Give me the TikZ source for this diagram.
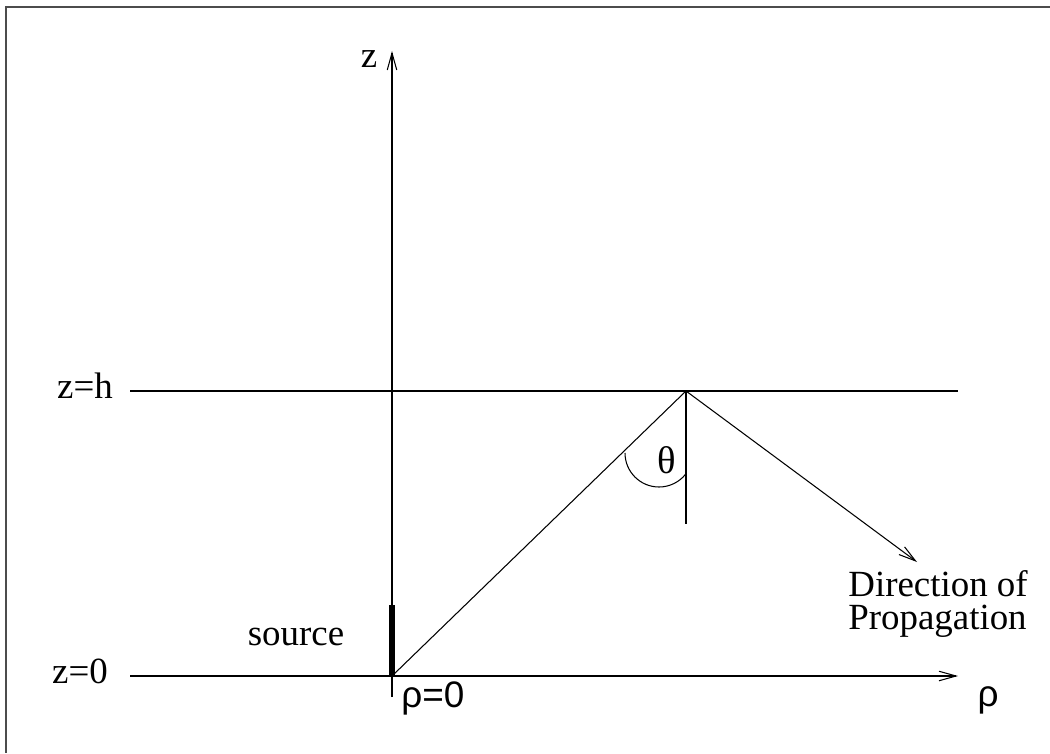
\documentclass[tikz,border=0pt]{standalone}
\usepackage{fontspec}
\setmainfont{Liberation Serif}
\newfontfamily\greeksans{Liberation Sans}
\usetikzlibrary{arrows.meta, positioning}

\begin{document}
\begin{tikzpicture}[
    x=0.02cm, y=-0.02cm,
    plain/.style={draw, line width=0.6pt},
    line/.style={draw, line width=0.6pt, -{Straight Barb[length=0.34cm, width=0.19cm, line width=0.6pt]}},
    srcbar/.style={draw, line width=3.4pt},
    frameline/.style={draw, line width=1.1pt, black!70},
    txt/.style={inner sep=0pt, font=\fontsize{21}{18.6}\selectfont},
    sym/.style={inner sep=0pt, font=\fontsize{21}{24}\selectfont\greeksans}
]
\useasboundingbox (0,0) rectangle (1050,753);

% Points
\coordinate (O) at (392,676);
\coordinate (ztop) at (392,51);
\coordinate (zbot) at (392,697);
\coordinate (srctop) at (392,605);
\coordinate (z0L) at (130,676);
\coordinate (z0R) at (958,676);
\coordinate (zhL) at (130,391);
\coordinate (zhR) at (958,391);
\coordinate (P) at (686,391);
\coordinate (Pdown) at (686,524);
\coordinate (dir) at (917,562);
\coordinate (arcstart) at (625,453);

% Frame
\path [frameline] (1050,7) -- (6,7) -- (6,753);

% Lines
\path [line] (zbot) -- (ztop);
\path [line] (z0L) -- (z0R);
\path [plain] (zhL) -- (zhR);
\path [plain] (O) -- (P);
\path [plain] (P) -- (Pdown);
\path [line] (P) -- (dir);
\path [srcbar] (O) -- (srctop);
\path [plain] (arcstart) arc[start angle=180, end angle=39, radius=34];

% Labels
\node [txt, anchor=base] (zlab) at (369,68) {z};
\node [txt, anchor=base] (zhlab) at (85,398) {z=h};
\node [txt, anchor=base] (z0lab) at (80,683) {z=0};
\node [txt, anchor=base] (srclab) at (296,645) {source};
\node [sym, anchor=base west] (rho0) at (401,707) {ρ=0};
\node [sym, anchor=base] (rholab) at (988,706) {ρ};
\node [txt, font=\fontsize{22}{24}\selectfont] (theta) at (667,460) {θ};
\node [txt, anchor=north west, align=left] (dirlab) at (848,570) {Direction of\\Propagation};

\end{tikzpicture}
\end{document}
